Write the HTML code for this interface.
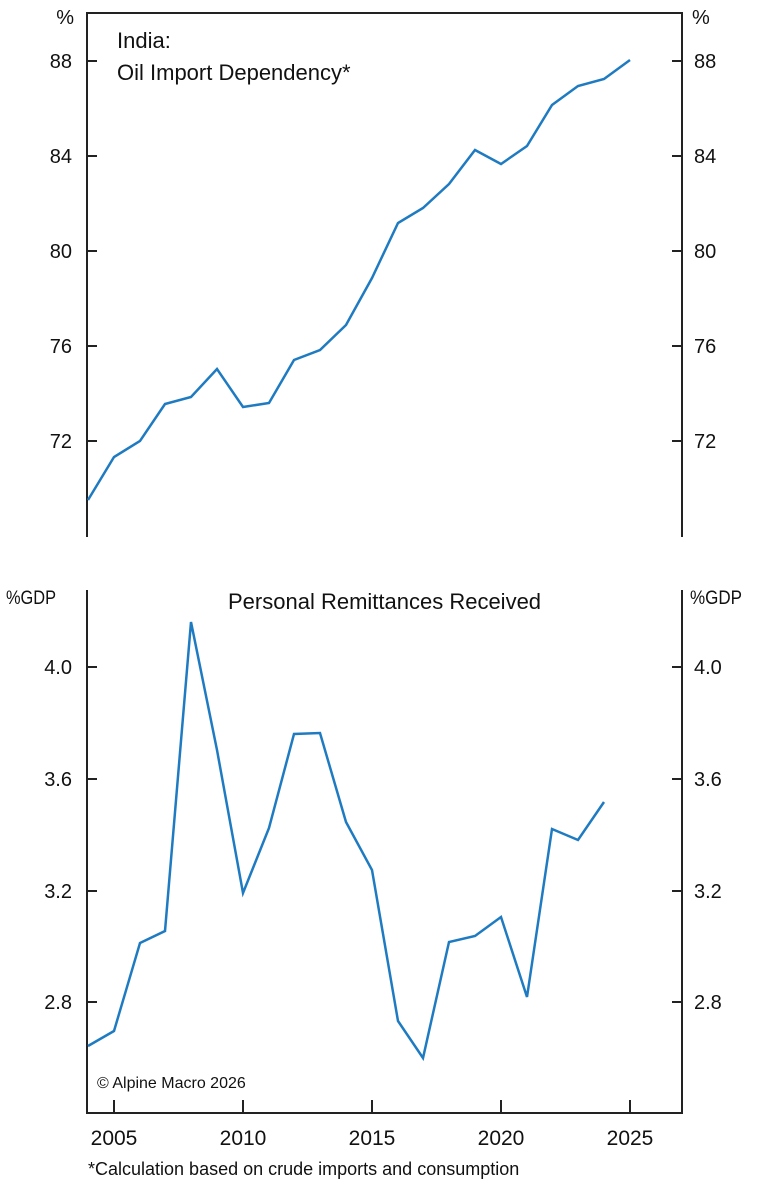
<!DOCTYPE html>
<html><head><meta charset="utf-8"><style>
html,body{margin:0;padding:0;background:#fff;}
svg{display:block;font-family:"Liberation Sans",Arial,sans-serif;}
</style></head><body>
<svg width="768" height="1192" viewBox="0 0 768 1192" xmlns="http://www.w3.org/2000/svg">
<g stroke="#222" stroke-width="2" fill="none">
  <path d="M87,537 V13 H682 V537"/>
  <path d="M87,61 h10 M87,156 h10 M87,251 h10 M87,346 h10 M87,441 h10"/>
  <path d="M682,61 h-10 M682,156 h-10 M682,251 h-10 M682,346 h-10 M682,441 h-10"/>
  <path d="M87,590 V1113 H682 V590"/>
  <path d="M87,667 h10 M87,779 h10 M87,891 h10 M87,1002 h10"/>
  <path d="M682,667 h-10 M682,779 h-10 M682,891 h-10 M682,1002 h-10"/>
  <path d="M114,1113 v-13 M243,1113 v-13 M372,1113 v-13 M501,1113 v-13 M630,1113 v-13"/>
</g>
<g fill="#111" font-size="20">
  <text x="74" y="24" text-anchor="end">%</text>
  <text x="692" y="24">%</text>
  <g text-anchor="end">
    <text x="72" y="68">88</text><text x="72" y="163">84</text><text x="72" y="258">80</text><text x="72" y="353">76</text><text x="72" y="448">72</text>
    <text x="72" y="674">4.0</text><text x="72" y="786">3.6</text><text x="72" y="898">3.2</text><text x="72" y="1009">2.8</text>
  </g>
  <text x="694" y="68">88</text><text x="694" y="163">84</text><text x="694" y="258">80</text><text x="694" y="353">76</text><text x="694" y="448">72</text>
  <text x="694" y="674">4.0</text><text x="694" y="786">3.6</text><text x="694" y="898">3.2</text><text x="694" y="1009">2.8</text>
  <text x="6" y="604" font-size="19" textLength="50" lengthAdjust="spacingAndGlyphs">%GDP</text>
  <text x="690" y="604" font-size="19" textLength="52" lengthAdjust="spacingAndGlyphs">%GDP</text>
  <g text-anchor="middle" font-size="21">
    <text x="114" y="1145">2005</text><text x="243" y="1145">2010</text><text x="372" y="1145">2015</text><text x="501" y="1145">2020</text><text x="630" y="1145">2025</text>
  </g>
  <text x="117" y="48" font-size="22">India:</text>
  <text x="117" y="80" font-size="22">Oil Import Dependency*</text>
  <text x="228" y="609" font-size="22">Personal Remittances Received</text>
  <text x="97" y="1088" font-size="16">© Alpine Macro 2026</text>
  <text x="88" y="1175" font-size="18">*Calculation based on crude imports and consumption</text>
</g>
<g fill="none" stroke="#1f7bc1" stroke-width="2.5" stroke-linejoin="miter">
  <polyline points="88,500 114,457 140,441 165,404 191,397 217,369 243,407 269,403 294,360 320,350 346,325 372,278 398,223 423,208 449,184 475,150 501,164 527,146 552,105 578,86 604,79 630,60"/>
  <polyline points="88,1046 114,1031 140,943 165,931 191,622 217,750 243,893 269,828 294,734 320,733 346,822 372,870 398,1021 423,1058 449,942 475,936 501,917 527,997 552,829 578,840 604,802"/>
</g>
</svg>
</body></html>
